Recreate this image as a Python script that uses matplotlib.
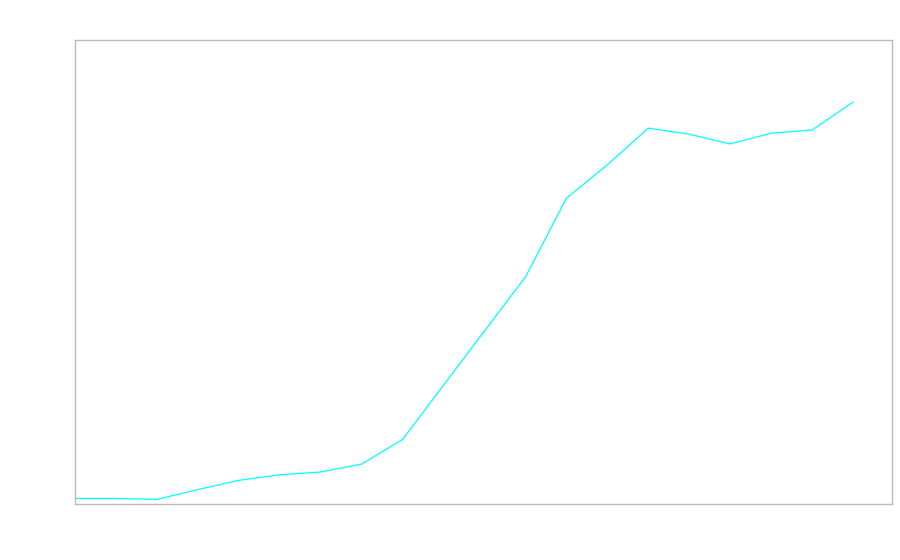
import matplotlib
matplotlib.use("Agg")
import matplotlib.pyplot as plt

# values (arbitrary units, axis 0-100)
steps = list(range(20))
values = [1.2, 1.2, 1.0, 3.1, 5.1, 6.3, 6.9, 8.6, 13.9, 25.6,
          37.3, 48.9, 65.9, 73.1, 81.0, 79.7, 77.6, 79.9, 80.6, 86.6]

fig = plt.figure(figsize=(9, 5.6), dpi=100)
ax = fig.add_axes([0.0833, 0.1, 0.9078, 0.8286])

ax.plot(steps, values, color="#00ffff", linewidth=0.9)

ax.set_xlim(0, 19.95)
ax.set_ylim(0, 100)
ax.set_xticks([])
ax.set_yticks([])
for side in ax.spines.values():
    side.set_color("#bbbbbb")
    side.set_linewidth(1)

fig.savefig("out.png", dpi=100)
